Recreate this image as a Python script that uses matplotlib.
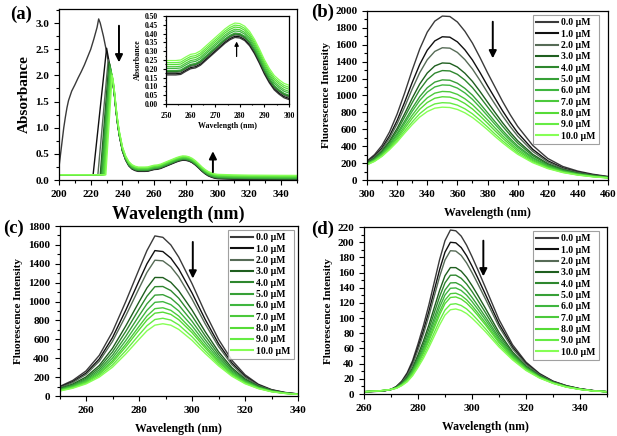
import matplotlib
matplotlib.use('Agg')
import matplotlib.pyplot as plt
import numpy as np
from matplotlib.ticker import MultipleLocator, FormatStrFormatter

plt.rcParams['font.family'] = ['Liberation Serif', 'DejaVu Serif']
plt.rcParams['font.weight'] = 'bold'
plt.rcParams['axes.labelweight'] = 'bold'

# concentrations (legend)
conc = [0.0, 1.0, 2.0, 3.0, 4.0, 5.0, 6.0, 7.0, 8.0, 9.0, 10.0]
labels = ['%.1f \u03bcM' % c for c in conc]
colors = ['#3a3a3a', '#101010', '#566b56', '#1f5f1f', '#2e872e', '#37a037',
          '#3fb63f', '#4cc93c', '#56db36', '#66ec44', '#86ff55']

# (a) absorbance: 0 uM short-wavelength band
abs0_wl = [200, 201, 202, 203, 204, 205, 206, 208, 210, 212, 214, 216, 218, 220, 222, 224, 225, 226, 228, 230, 232]
abs0_val = [0.25, 0.5, 0.75, 1.0, 1.2, 1.38, 1.52, 1.7, 1.82, 1.95, 2.07, 2.2, 2.35, 2.5, 2.7, 2.92, 3.08, 3.0, 2.75, 2.45, 2.1]
# other curves: baseline, onset of rise, peak position and height
abs_base = 0.1
abs_onset = [None, 221.5, 224.5, 226.0, 226.5, 227.0, 227.5, 228.0, 228.5, 229.0, 229.5]
abs_peak_wl = [None, 230.0, 231.0, 231.5, 232.0, 232.0, 232.5, 232.5, 233.0, 233.0, 233.5]
abs_peak = [None, 2.52, 2.3, 2.25, 2.22, 2.18, 2.14, 2.1, 2.06, 2.02, 2.0]
# common long-wavelength part (0 uM)
tail_wl = [234, 235, 236, 237, 238, 239, 240, 242, 244, 246, 248, 250, 252, 254, 256, 258, 260, 262,
           264, 266, 268, 270, 272, 274, 276, 278, 280, 282, 284, 286, 288, 290, 292, 294, 296, 298,
           300, 310, 320, 330, 340, 350]
tail_val = [1.85, 1.6, 1.3, 1.05, 0.85, 0.7, 0.55, 0.38, 0.27, 0.21, 0.18, 0.165, 0.165, 0.165, 0.168,
            0.185, 0.2, 0.205, 0.22, 0.245, 0.27, 0.295, 0.32, 0.345, 0.365, 0.378, 0.375, 0.36, 0.33,
            0.285, 0.23, 0.17, 0.12, 0.08, 0.055, 0.035, 0.025, 0.015, 0.01, 0.008, 0.006, 0.005]
# 278 nm band maxima
inset_peak = [0.378, 0.385, 0.392, 0.398, 0.400, 0.403, 0.415, 0.425, 0.437, 0.448, 0.46]

# (b) fluorescence, top (0 uM) and bottom (10 uM) curves, peaks of all
b_wl = [300, 305, 310, 315, 320, 325, 330, 335, 340, 345, 350, 355, 360, 365, 370, 375, 380, 385,
        390, 395, 400, 410, 420, 430, 440, 450, 460]
b_top = [225, 300, 410, 570, 780, 1030, 1300, 1550, 1750, 1880, 1940, 1935, 1870, 1760, 1620, 1450,
         1270, 1100, 930, 775, 635, 410, 255, 160, 105, 68, 42]
b_bot = [180, 220, 280, 360, 450, 555, 655, 745, 810, 850, 862, 858, 835, 795, 740, 670, 595, 515,
         440, 370, 305, 205, 135, 88, 58, 38, 24]
b_peak = [1940, 1695, 1565, 1385, 1295, 1185, 1125, 1048, 985, 915, 862]

# (c)
c_wl = [250, 255, 260, 265, 270, 275, 280, 283, 286, 289, 292, 295, 300, 305, 310, 315, 320, 325, 330, 335, 340]
c_top = [100, 165, 265, 430, 680, 1000, 1340, 1540, 1695, 1680, 1600, 1470, 1190, 880, 600, 380, 225, 125, 68, 38, 22]
c_bot = [52, 82, 128, 200, 305, 445, 600, 690, 750, 765, 750, 705, 590, 450, 320, 210, 130, 78, 45, 27, 17]
c_peak = [1695, 1542, 1442, 1262, 1166, 1078, 1003, 937, 890, 824, 765]

# (d)
d_wl = [260, 265, 268, 270, 272, 274, 276, 278, 280, 282, 284, 286, 288, 290, 292, 294, 296, 298,
        300, 302, 305, 310, 315, 320, 325, 330, 335, 340, 345, 350]
d_top = [3, 3.5, 4.5, 6, 10, 17, 28, 44, 66, 90, 117, 147, 177, 202, 216, 215, 208, 196, 181, 165,
         140, 98, 65, 42, 27, 17, 11, 7, 4.5, 3]
d_bot = [3, 4, 5, 6, 7.5, 11, 16, 24, 35, 47, 61, 76, 91, 104, 111, 112, 110, 106, 100, 93, 82, 62,
         45, 31, 21, 14, 9, 6, 4, 3]
d_peak = [216, 200, 189, 167, 157, 147, 140, 133, 128, 119, 112]

W, H = 617, 436
fig = plt.figure(figsize=(W / 100, H / 100), dpi=100)


def box(l, t, r, b):
    return [l / W, 1 - b / H, (r - l) / W, (b - t) / H]


def style(ax, xmaj, xmin, ymaj, ymin, size=8):
    ax.xaxis.set_major_locator(MultipleLocator(xmaj))
    ax.xaxis.set_minor_locator(MultipleLocator(xmin))
    ax.yaxis.set_major_locator(MultipleLocator(ymaj))
    ax.yaxis.set_minor_locator(MultipleLocator(ymin))
    ax.tick_params(which='both', direction='out', top=False, right=False, labelsize=size, width=0.8)
    ax.tick_params(which='major', length=3.5)
    ax.tick_params(which='minor', length=2)
    for s in ax.spines.values():
        s.set_linewidth(0.9)


def arrow(ax, x, y0, y1, lw=1.4, ms=11):
    ax.annotate('', xy=(x, y1), xytext=(x, y0),
                arrowprops=dict(arrowstyle='-|>', color='k', lw=lw, mutation_scale=ms, shrinkA=0, shrinkB=0))


# ---- (a)
ax = fig.add_axes(box(59, 9, 297, 180))
tw = np.array(tail_wl)
tv = np.array(tail_val)
for i in range(len(conc)):
    off = inset_peak[i] - inset_peak[0]
    if i == 0:
        wl = abs0_wl + list(tw)
        y = abs0_val + list(tv + off)
    else:
        keep = tw > abs_peak_wl[i]
        wl = [200, abs_onset[i], abs_peak_wl[i]] + list(tw[keep])
        y = [abs_base, abs_base, abs_peak[i]] + list(tv[keep] + off)
    ax.plot(wl, y, color=colors[i], lw=1.0)
ax.set_xlim(200, 350)
ax.set_ylim(0, 3.27)
style(ax, 20, 10, 0.5, 0.25)
ax.set_xlabel('Wavelength (nm)', fontsize=13, labelpad=5)
ax.set_ylabel('Absorbance', fontsize=11, labelpad=3)
arrow(ax, 237.8, 2.95, 2.25)
arrow(ax, 297, 0.15, 0.55)

ins = fig.add_axes(box(166, 16, 289, 104))
m = (tw >= 250)
for i in range(len(conc)):
    off = inset_peak[i] - inset_peak[0]
    ins.plot(tw[m], tv[m] + off, color=colors[i], lw=0.9)
ins.set_xlim(250, 300)
ins.set_ylim(0, 0.5)
style(ins, 10, 5, 0.05, 0.025, size=5.5)
ins.tick_params(which='major', length=2)
ins.tick_params(which='minor', length=1)
ins.yaxis.set_major_formatter(FormatStrFormatter('%.2f'))
ins.set_xlabel('Wavelength (nm)', fontsize=5.7, labelpad=2)
ins.set_ylabel('Absorbance', fontsize=5.7, labelpad=2)
arrow(ins, 278.7, 0.27, 0.355, lw=0.9, ms=6)


def fluor(rect, wl, top, bot, peaks, xlim, ylim, xt, yt, arr, gap):
    ax = fig.add_axes(box(*rect))
    top = np.array(top, float)
    bot = np.array(bot, float)
    for i, p in enumerate(peaks):
        w = (p - bot.max()) / (top.max() - bot.max())
        ax.plot(wl, bot + w * (top - bot), color=colors[i], lw=1.0, label=labels[i])
    ax.set_xlim(*xlim)
    ax.set_ylim(*ylim)
    style(ax, xt, xt / 2, yt, yt / 2)
    ax.set_xlabel('Wavelength (nm)', fontsize=8.5, labelpad=6)
    ax.set_ylabel('Fluorescence Intensity', fontsize=8, labelpad=3)
    aw = rect[2] - rect[0]
    ah = rect[3] - rect[1]
    lg = ax.legend(loc='upper right', bbox_to_anchor=(1 - gap / aw, 1 - 4 / ah),
                   fontsize=7, frameon=True, fancybox=False,
                   handlelength=2.2, handletextpad=0.35, labelspacing=0.24,
                   borderpad=0.35, borderaxespad=0)
    lg.get_frame().set_edgecolor('#888888')
    lg.get_frame().set_linewidth(0.8)
    for h in lg.get_lines():
        h.set_linewidth(1.5)
    arrow(ax, *arr)
    return ax


fluor((367, 11, 608, 180), b_wl, b_top, b_bot, b_peak, (300, 460), (0, 2000), 20, 200, (383.5, 1873, 1440), 9)
fluor((59.5, 226, 298, 396), c_wl, c_top, c_bot, c_peak, (250, 340), (0, 1800), 20, 200, (300.3, 1631, 1244), 4)
fluor((364, 227, 607, 394), d_wl, d_top, d_bot, d_peak, (260, 350), (0, 220), 20, 20, (304.2, 202, 155), 8)

for t, x, y in [('(a)', 21, 14), ('(b)', 323, 12), ('(c)', 14, 228), ('(d)', 323, 229)]:
    fig.text(x / W, 1 - y / H, t, fontsize=13.5, fontweight='bold', ha='center', va='center')

fig.savefig('out.png', dpi=100)
